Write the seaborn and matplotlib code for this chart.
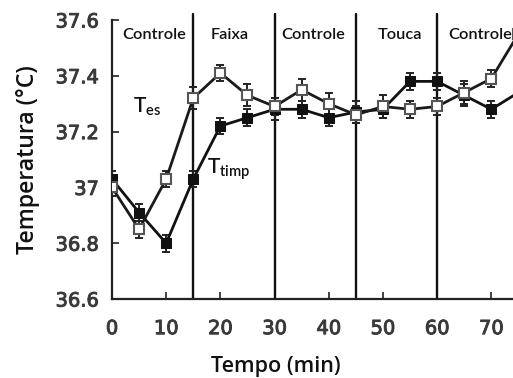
import matplotlib
matplotlib.use("Agg")
import matplotlib.pyplot as plt
import matplotlib.patheffects as pe
import seaborn as sns
import pandas as pd

tempo = [0, 5, 10, 15, 20, 25, 30, 35, 40, 45, 50, 55, 60, 65, 70, 75]
t_es = [37.00, 36.85, 37.03, 37.32, 37.41, 37.33, 37.29, 37.35, 37.30, 37.26,
        37.29, 37.28, 37.29, 37.34, 37.39, 37.55]
t_es_err = [0.03, 0.03, 0.03, 0.04, 0.03, 0.04, 0.03, 0.04, 0.04, 0.03,
            0.04, 0.03, 0.03, 0.04, 0.03, 0.04]
t_timp = [37.03, 36.91, 36.80, 37.03, 37.22, 37.25, 37.28, 37.28, 37.25, 37.27,
          37.28, 37.38, 37.38, 37.33, 37.28, 37.34]
t_timp_err = [0.03, 0.03, 0.03, 0.03, 0.03, 0.03, 0.04, 0.03, 0.03, 0.04,
              0.03, 0.03, 0.03, 0.04, 0.03, 0.03]
fases = ["Controle", "Faixa", "Controle", "Touca", "Controle"]
fase_x = [7.85, 21.7, 37.2, 53.1, 68.0]
limites = [15, 30, 45, 60]
yticks = [36.6, 36.8, 37.0, 37.2, 37.4, 37.6]
yticklabels = ["36.6", "36.8", "37", "37.2", "37.4", "37.6"]
xticks = [0, 10, 20, 30, 40, 50, 60, 70]

sns.set_style("ticks")
plt.rcParams["font.family"] = ["DejaVu Sans"]

fig = plt.figure(figsize=(5.13, 3.78), dpi=100)
ax = fig.add_axes([112 / 513, 79 / 378, 401 / 513, 279 / 378])

df = pd.DataFrame({"tempo": tempo + tempo,
                   "temp": t_es + t_timp,
                   "serie": ["Tes"] * len(tempo) + ["Ttimp"] * len(tempo)})

for x in limites:
    ax.plot([x, x], [36.6, 37.62], color="#111111", lw=1.7, clip_on=False, zorder=1)

ax.errorbar(tempo, t_timp, yerr=t_timp_err, fmt="none", ecolor="#222222",
            elinewidth=1.4, capsize=3, capthick=1.4, zorder=2)
ax.errorbar(tempo, t_es, yerr=t_es_err, fmt="none", ecolor="#222222",
            elinewidth=1.4, capsize=3, capthick=1.4, zorder=2)

sns.lineplot(data=df[df.serie == "Ttimp"], x="tempo", y="temp", ax=ax,
             color="#111111", lw=2.0, marker="s", markersize=7.5,
             markerfacecolor="#111111", markeredgecolor="#111111", zorder=3,
             legend=False)
sns.lineplot(data=df[df.serie == "Tes"], x="tempo", y="temp", ax=ax,
             color="#1a1a1a", lw=2.0, marker="s", markersize=7.5,
             markerfacecolor="white", markeredgecolor="#555555",
             markeredgewidth=1.5, zorder=4, legend=False)

ax.set_xlim(0, 74)
ax.set_ylim(36.6, 37.6)
ax.set_yticks(yticks)
ax.set_yticklabels(yticklabels)
ax.set_xticks(xticks)
ax.tick_params(direction="in", length=5, width=1.2, colors="#222222")
ax.tick_params(axis="x", pad=14.5)
ax.tick_params(axis="y", pad=9.4)
for lbl in ax.get_xticklabels() + ax.get_yticklabels():
    lbl.set_color("#3a3a3a")
    lbl.set_fontsize(14)
    lbl.set_path_effects([pe.withStroke(linewidth=0.7, foreground="#3a3a3a")])
sns.despine(ax=ax, top=True, right=True)
ax.spines["left"].set_linewidth(1.6)
ax.spines["bottom"].set_linewidth(1.6)
ax.spines["left"].set_color("#222222")
ax.spines["bottom"].set_color("#222222")

lab_font = ["Open Sans", "DejaVu Sans"]
ax.set_xlabel("Tempo (min)", fontsize=15.5, family=lab_font, fontweight="semibold",
              color="#111111", labelpad=11)
ax.xaxis.set_label_coords((276 - 112) / 401, -0.205)
ax.set_ylabel("Temperatura (°C)", fontsize=16.7, family=lab_font, fontweight="semibold",
              color="#111111", labelpad=11)

for name, x in zip(fases, fase_x):
    ax.text(x, 37.547, name, ha="center", va="center", fontsize=11.8,
            family=["Lato", "DejaVu Sans"], fontweight="semibold", color="#111111")

ax.text(3.9, 37.29, r"T$_{\mathregular{es}}$", fontsize=15, family=["Lato", "DejaVu Sans"],
        fontweight="semibold", color="#111111", va="center")
ax.text(17.5, 37.067, r"T$_{\mathregular{timp}}$", fontsize=15, family=["Lato", "DejaVu Sans"],
        fontweight="semibold", color="#111111", va="center")

fig.savefig("out.png", dpi=100)
